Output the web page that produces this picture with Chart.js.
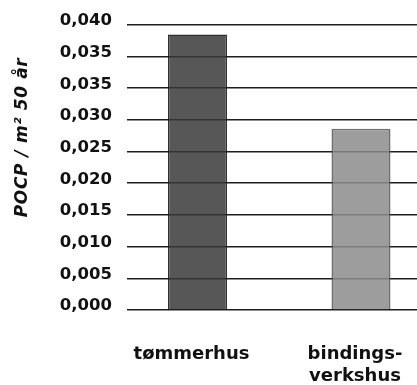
<!DOCTYPE html>
<html>
<head>
<meta charset="utf-8">
<script src="https://cdn.jsdelivr.net/npm/chart.js@4/dist/chart.umd.min.js"></script>
<style>
  html, body { margin: 0; padding: 0; background: #ffffff; }
  #wrap { width: 417px; height: 385px; }
</style>
</head>
<body>
<div id="wrap"><canvas id="c" width="417" height="385"></canvas></div>
<script>
// House types (each entry is one label, split over lines)
const categories = [['tømmerhus'], ['bindings-', 'verkshus']];
// POCP per m² over 50 years
const pocpValues = [0.0435, 0.0286];
// Y tick labels, bottom to top, as printed on the axis
const yTickLabels = ['0,000', '0,005', '0,010', '0,015', '0,020', '0,025', '0,030', '0,035', '0,035', '0,040'];
const yAxisTitle = 'POCP / m² 50 år';

const barFills = ['rgba(58,58,58,0.85)', 'rgba(140,140,140,0.85)'];
const barEdges = ['rgba(25,25,25,0.9)', 'rgba(85,85,85,0.85)'];

const FONT = 'DejaVu Sans';

// Rotated y-axis caption, placed in the left margin
const yCaption = {
  id: 'yCaption',
  afterDraw(chart) {
    const { ctx, chartArea } = chart;
    const cy = chartArea.top + (chartArea.bottom - chartArea.top) * 0.395;
    ctx.save();
    ctx.translate(23, cy);
    ctx.rotate(-Math.PI / 2);
    ctx.font = 'italic bold 17px "' + FONT + '"';
    if ('letterSpacing' in ctx) ctx.letterSpacing = '0.6px';
    ctx.fillStyle = '#111111';
    ctx.textAlign = 'center';
    ctx.textBaseline = 'middle';
    ctx.fillText(yAxisTitle, 0, 0);
    ctx.restore();
  }
};

new Chart(document.getElementById('c'), {
  type: 'bar',
  data: {
    datasets: [{
      data: pocpValues.map((v, i) => ({ x: i, y: v })),
      backgroundColor: barFills,
      borderColor: barEdges,
      borderWidth: 1.5,
      barPercentage: 0.361,
      categoryPercentage: 1
    }]
  },
  options: {
    responsive: false,
    animation: false,
    devicePixelRatio: 1,
    layout: { padding: { top: 24, right: 0, bottom: 0, left: 0 } },
    plugins: {
      legend: { display: false },
      tooltip: { enabled: false }
    },
    scales: {
      x: {
        type: 'linear',
        offset: false,
        min: -0.431,
        max: 1.3425,
        grid: { display: false, offset: false, drawTicks: false },
        border: { display: false },
        afterBuildTicks(scale) {
          scale.ticks = categories.map((_, i) => ({ value: i }));
        },
        afterFit(scale) {
          scale.height = 75;
          scale.paddingLeft = 0;
          scale.paddingRight = 0;
        },
        ticks: {
          padding: 33,
          labelOffset: -6,
          color: '#111111',
          font: { family: FONT, weight: 'bold', size: 18, lineHeight: 1.25 },
          callback: (v) => categories[v]
        }
      },
      y: {
        min: 0,
        max: 0.045,
        grid: { color: '#1e1e1e', lineWidth: 1.6, drawTicks: false },
        border: { display: false },
        afterFit(scale) { scale.width = 127; },
        ticks: {
          stepSize: 0.005,
          padding: 15,
          labelOffset: -4,
          color: '#111111',
          font: { family: FONT, weight: 'bold', size: 16.5 },
          callback: (v, i) => yTickLabels[i]
        }
      }
    }
  },
  plugins: [yCaption]
});
</script>
</body>
</html>
